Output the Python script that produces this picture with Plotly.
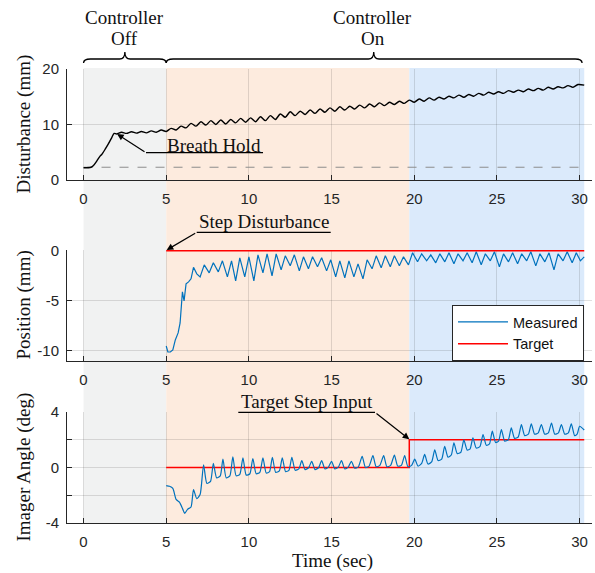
import plotly.graph_objects as go

# ---------------- data ----------------
x_ticks = [0, 5, 10, 15, 20, 25, 30]
phase_edges = [0, 5, 19.7, 30.28]          # controller off | step disturbance | target step

dist_t = [0.0, 0.45, 0.6, 0.8, 1.0, 1.1, 1.3, 1.5, 1.7, 1.85,
          2.0, 2.3, 2.6, 2.9, 3.2, 3.5, 3.8, 4.1, 4.4, 4.7,
          5.0, 5.3, 5.6, 5.9, 6.2, 6.5, 6.8, 7.1, 7.4, 7.7,
          8.0, 8.3, 8.6, 8.9, 9.2, 9.5, 9.8, 10.1, 10.4, 10.7,
          11.0, 11.3, 11.6, 11.9, 12.2, 12.5, 12.8, 13.1, 13.4, 13.7,
          14.0, 14.3, 14.6, 14.9, 15.2, 15.5, 15.8, 16.1, 16.4, 16.7,
          17.0, 17.3, 17.6, 17.9, 18.2, 18.5, 18.8, 19.1, 19.4, 19.7,
          20.0, 20.3, 20.6, 20.9, 21.2, 21.5, 21.8, 22.1, 22.4, 22.7,
          23.0, 23.3, 23.6, 23.9, 24.2, 24.5, 24.8, 25.1, 25.4, 25.7,
          26.0, 26.3, 26.6, 26.9, 27.2, 27.5, 27.8, 28.1, 28.4, 28.7,
          29.0, 29.3, 29.6, 29.9, 30.28]
dist_mm = [2.2, 2.3, 2.6, 3.4, 4.3, 4.6, 5.5, 6.5, 7.6, 8.4,
           8.3, 8.6, 8.4, 8.7, 8.45, 8.75, 8.5, 8.85, 8.6, 9.0,
           8.75, 9.3, 9.0, 9.7, 9.4, 10.2, 9.7, 10.5, 9.9, 10.7,
           10.0, 10.8, 10.1, 10.9, 10.3, 11.1, 10.4, 11.2, 10.5, 11.4,
           10.7, 11.6, 10.9, 11.9, 11.3, 12.3, 11.6, 12.4, 11.8, 12.6,
           12.0, 12.8, 12.2, 13.0, 12.4, 13.2, 12.6, 13.3, 12.8, 13.5,
           13.0, 13.7, 13.2, 13.9, 13.4, 14.0, 13.6, 14.2, 13.8, 14.4,
           14.0, 14.6, 14.2, 14.8, 14.4, 14.9, 14.6, 15.1, 14.8, 15.3,
           14.9, 15.4, 15.1, 15.6, 15.3, 15.8, 15.5, 15.9, 15.6, 16.1,
           15.8, 16.2, 15.9, 16.4, 16.1, 16.5, 16.2, 16.7, 16.4, 16.8,
           16.6, 17.0, 16.7, 17.2, 17.1]
dist_base_t = [0.0, 30.28]
dist_base_mm = [2.3, 2.3]

pos_t = [5.0, 5.1, 5.25, 5.4, 5.55, 5.72, 5.84, 5.93, 5.98, 6.08,
         6.2, 6.35, 6.5, 6.65, 6.85, 7.05, 7.3, 7.6, 7.85, 8.15,
         8.4, 8.7, 8.95, 9.2, 9.45, 9.75, 10.0, 10.3, 10.55, 10.85,
         11.1, 11.4, 11.65, 11.95, 12.2, 12.5, 12.75, 13.05, 13.3, 13.6,
         13.85, 14.15, 14.4, 14.7, 14.95, 15.25, 15.5, 15.8, 16.05, 16.35,
         16.6, 16.9, 17.15, 17.45, 17.7, 18.0, 18.25, 18.55, 18.8, 19.1,
         19.35, 19.65, 19.9, 20.2, 20.45, 20.75, 21.0, 21.3, 21.55, 21.85,
         22.1, 22.4, 22.65, 22.95, 23.2, 23.5, 23.75, 24.05, 24.3, 24.6,
         24.85, 25.15, 25.4, 25.7, 25.95, 26.25, 26.5, 26.8, 27.05, 27.35,
         27.6, 27.9, 28.15, 28.45, 28.7, 29.0, 29.25, 29.55, 29.8, 30.05,
         30.28]
pos_mm = [-9.5, -10.1, -10.1, -9.9, -8.9, -8.2, -7.2, -4.9, -4.1, -5.0,
          -3.3, -3.1, -2.8, -1.65, -2.3, -2.6, -1.4, -2.2, -1.2, -2.1,
          -1.0, -2.6, -1.0, -3.0, -0.7, -2.6, -0.6, -3.0, -0.4, -2.2,
          -0.3, -2.5, -0.3, -1.9, -0.5, -1.5, -0.4, -2.0, -0.6, -1.8,
          -0.6, -1.6, -0.7, -2.0, -0.9, -2.6, -1.0, -2.7, -1.0, -2.6,
          -1.3, -2.8, -0.9, -1.8, -0.5, -1.7, -0.5, -1.6, -0.5, -1.5,
          -0.6, -1.4, -0.2, -1.1, -0.3, -1.0, -0.4, -1.2, -0.3, -1.1,
          -0.2, -1.3, -0.3, -1.0, -0.2, -1.2, -0.1, -1.4, -0.3, -1.0,
          -0.1, -1.6, -0.3, -1.1, -0.2, -1.3, -0.3, -1.0, -0.1, -1.5,
          -0.3, -1.1, -0.2, -1.9, -0.3, -1.0, -0.1, -1.2, -0.2, -1.0,
          -0.6]
pos_target_t = [5.0, 30.28]
pos_target_mm = [0.0, 0.0]

ang_t = [5.0, 5.2, 5.4, 5.6, 5.8, 6.0, 6.12, 6.3, 6.5, 6.65, 6.85, 7.05,
         7.26, 7.46, 7.68, 7.85, 8.05, 8.27, 8.43, 8.63, 8.85,
         9.03, 9.23, 9.45, 9.64, 9.84, 10.06, 10.24, 10.44, 10.66,
         10.85, 11.05, 11.25, 11.42, 11.62, 11.84, 12.02, 12.22, 12.42,
         12.6, 12.8, 13.02, 13.2, 13.4, 13.62, 13.8, 14.0, 14.22,
         14.4, 14.6, 14.82, 15.0, 15.2, 15.42, 15.6, 15.8, 16.02,
         16.2, 16.4, 16.62, 16.85, 17.05, 17.27, 17.5, 17.7, 17.92,
         18.15, 18.35, 18.57, 18.8, 19.0, 19.22, 19.42, 19.62, 19.84,
         20.03, 20.23, 20.45, 20.63, 20.83, 21.05, 21.24, 21.44, 21.66,
         21.84, 22.04, 22.24, 22.4, 22.6, 22.82, 23.0, 23.2, 23.38,
         23.55, 23.75, 23.97, 24.16, 24.36, 24.55, 24.72, 24.92, 25.1,
         25.27, 25.47, 25.69, 25.87, 26.07, 26.29, 26.48, 26.68, 26.9,
         27.08, 27.28, 27.5, 27.69, 27.89, 28.11, 28.3, 28.5, 28.72,
         28.9, 29.1, 29.32, 29.5, 29.7, 29.85, 30.0, 30.28]
ang_deg = [-1.3, -1.35, -1.5, -2.3, -2.5, -3.0, -3.3, -3.0, -2.85, -1.6, -2.25, -1.95,
           0.2, -1.15, -1.0, 0.3, -0.75, -0.6, 0.6, -0.75, -0.6,
           0.77, -0.6, -0.5, 0.7, -0.55, -0.45, 0.65, -0.45, -0.35,
           0.7, -0.4, -0.3, 0.74, -0.35, -0.25, 0.7, -0.3, -0.2,
           0.74, -0.2, -0.1, 0.5, -0.15, 0.0, 0.45, -0.15, 0.0,
           0.5, -0.1, 0.05, 0.45, -0.1, 0.05, 0.5, -0.1, 0.05,
           0.45, -0.05, 0.05, 0.8, 0.0, 0.1, 0.85, 0.05, 0.15,
           0.85, 0.05, 0.15, 0.9, 0.1, 0.15, 0.86, 0.05, 0.15,
           0.6, 0.1, 0.3, 0.94, 0.25, 0.4, 1.28, 0.5, 0.6,
           1.53, 0.75, 0.9, 1.78, 1.0, 1.1, 2.0, 1.25, 1.35,
           2.14, 1.4, 1.5, 2.38, 1.6, 1.7, 2.62, 1.8, 1.9,
           2.74, 1.9, 2.0, 2.85, 2.1, 2.2, 3.1, 2.3, 2.4,
           3.15, 2.4, 2.5, 3.1, 2.4, 2.5, 3.2, 2.4, 2.5,
           3.1, 2.4, 2.5, 3.15, 2.3, 2.4, 2.97, 2.7]
ang_target_t = [5.0, 19.7, 19.7, 30.28]
ang_target_deg = [0.0, 0.0, 2.0, 2.0]

# ---------------- layout geometry helpers (pixels -> plot coordinates) ----------------
W, H = 595, 573
ML, MR, MT, MB = 67, 3, 69, 50
PW, PH = W - ML - MR, H - MT - MB
X_RANGE = [-1, 30.75]
PX_PER_UNIT = PW / (X_RANGE[1] - X_RANGE[0])


def px_to_t(px):
    return X_RANGE[0] + (px - ML) / PX_PER_UNIT


def py(ypx):
    return (H - MB - ypx) / PH


def pxp(xpx):
    return (xpx - ML) / PW


dom_top = [py(180), 1.0]
dom_mid = [py(361), py(250)]
dom_bot = [0.0, py(412)]

SERIF = "Liberation Serif, Times New Roman, serif"
SANS = "Liberation Sans, Arial, Helvetica, sans-serif"
AXC = "#262626"
BLUE = "#0072BD"
RED = "#FF0000"

fig = go.Figure()

# top panel
fig.add_trace(go.Scatter(x=dist_base_t, y=dist_base_mm, mode="lines",
                         line=dict(color="#8c8c8c", width=1, dash="dash"),
                         showlegend=False, xaxis="x", yaxis="y", hoverinfo="skip"))
fig.add_trace(go.Scatter(x=dist_t, y=dist_mm, mode="lines",
                         line=dict(color="black", width=1.4, shape="spline", smoothing=0.8),
                         showlegend=False, xaxis="x", yaxis="y"))
# middle panel
fig.add_trace(go.Scatter(x=pos_t, y=pos_mm, mode="lines", name="Measured",
                         line=dict(color=BLUE, width=1.2),
                         showlegend=True, xaxis="x2", yaxis="y2"))
fig.add_trace(go.Scatter(x=pos_target_t, y=pos_target_mm, mode="lines", name="Target",
                         line=dict(color=RED, width=1.5),
                         showlegend=True, xaxis="x2", yaxis="y2"))
# bottom panel
fig.add_trace(go.Scatter(x=ang_target_t, y=ang_target_deg, mode="lines",
                         line=dict(color=RED, width=1.5),
                         showlegend=False, xaxis="x3", yaxis="y3"))
fig.add_trace(go.Scatter(x=ang_t, y=ang_deg, mode="lines",
                         line=dict(color=BLUE, width=1.2, shape="spline", smoothing=0.6),
                         showlegend=False, xaxis="x3", yaxis="y3"))

axis_common = dict(showline=True, linecolor=AXC, linewidth=1, ticks="inside", ticklen=5,
                   tickcolor=AXC, tickwidth=1, showgrid=True, gridcolor="rgba(38,38,38,0.14)",
                   gridwidth=1, zeroline=False, mirror=False,
                   tickfont=dict(family=SANS, size=15, color=AXC))

for xa, ya in [("xaxis", "y"), ("xaxis2", "y2"), ("xaxis3", "y3")]:
    fig.update_layout(**{xa: dict(axis_common, range=X_RANGE, tickvals=x_ticks, anchor=ya,
                                  domain=[0, 1], ticklabelstandoff=5)})

fig.update_layout(
    yaxis=dict(axis_common, domain=dom_top, range=[0, 20], tickvals=[0, 10, 20], anchor="x",
               ticklabelstandoff=4),
    yaxis2=dict(axis_common, domain=dom_mid, range=[-11, 0.08], tickvals=[-10, -5, 0],
                ticktext=["-10", "-5", "0"], anchor="x2", ticklabelstandoff=4),
    yaxis3=dict(axis_common, domain=dom_bot, range=[-4, 4], tickvals=[-4, -2, 0, 2, 4],
                ticktext=["-4", "", "0", "", "4"], anchor="x3", ticklabelstandoff=4),
)

shapes = []
shade_colors = ["rgb(241,242,242)", "rgb(253,235,222)", "rgb(219,234,251)"]
for k in range(3):
    shapes.append(dict(type="rect", xref="x", yref="paper", x0=phase_edges[k], x1=phase_edges[k + 1],
                       y0=0, y1=py(68), fillcolor=shade_colors[k], line=dict(width=0), layer="below"))


def brace(x0, x1, xm):
    yb, yl, yp = py(63), py(59), py(52)
    dx = 0.42
    dm = 0.32
    return (f"M {x0},{yb} Q {x0},{yl} {x0 + dx},{yl} L {xm - dm},{yl} Q {xm},{yl} {xm},{yp} "
            f"Q {xm},{yl} {xm + dm},{yl} L {x1 - dx},{yl} Q {x1},{yl} {x1},{yb}")


shapes.append(dict(type="path", xref="x", yref="paper", path=brace(0, 5, 2.5),
                   line=dict(color="black", width=1.3)))
shapes.append(dict(type="path", xref="x", yref="paper", path=brace(5, 30.15, 17.55),
                   line=dict(color="black", width=1.3)))

# underlines of the callouts
for (xa, xb, yy) in [(146, 263, 152.7), (196.7, 330.7, 232.3), (238.3, 375, 412.3)]:
    shapes.append(dict(type="line", xref="x", yref="paper", x0=px_to_t(xa), x1=px_to_t(xb),
                       y0=py(yy), y1=py(yy), line=dict(color="black", width=1.3)))

annotations = []


def text(x_t, y_px, s, size=19, family=SERIF, angle=0, x_paper=None):
    d = dict(text=s, xref="x" if x_paper is None else "paper",
             x=x_t if x_paper is None else x_paper, yref="paper", y=py(y_px),
             showarrow=False, xanchor="center", yanchor="middle", textangle=angle,
             borderpad=0, font=dict(family=family, size=size, color="#111111"))
    annotations.append(d)


text(2.48, 17.8, "Controller")
text(2.48, 39.0, "Off")
text(17.5, 17.8, "Controller")
text(17.5, 39.0, "On")
text(px_to_t(214), 145, "Breath Hold")
text(px_to_t(263.7), 221.3, "Step Disturbance")
text(px_to_t(307), 401.3, "Target Step Input")

text(None, 124.5, "Disturbance (mm)", angle=-90, x_paper=pxp(23))
text(None, 305.5, "Position (mm)", angle=-90, x_paper=pxp(23))
text(None, 467.5, "Imager Angle (deg)", angle=-90, x_paper=pxp(23))
text(None, 561, "Time (sec)", x_paper=pxp(332))

# arrows (head at x/y, tail at the start of each underline)
for (hx, hy, tx, ty) in [(117.1, 134, 146, 152.7), (166.7, 250, 196.7, 232.3),
                         (409.3, 439.3, 375, 412.3)]:
    annotations.append(dict(text="", xref="x", x=px_to_t(hx), yref="paper", y=py(hy),
                            axref="pixel", ayref="pixel", ax=tx - hx, ay=ty - hy,
                            showarrow=True, arrowhead=2, arrowsize=1.1, arrowwidth=1.2,
                            arrowcolor="black", standoff=0, startstandoff=0))

fig.update_layout(
    width=W, height=H,
    margin=dict(l=ML, r=MR, t=MT, b=MB, pad=0),
    paper_bgcolor="white", plot_bgcolor="rgba(0,0,0,0)",
    shapes=shapes, annotations=annotations,
    legend=dict(x=pxp(584), y=py(361), xanchor="right", yanchor="bottom",
                bgcolor="white", bordercolor=AXC, borderwidth=1, itemwidth=50,
                font=dict(family=SANS, size=14.5, color="#111111"), tracegroupgap=0),
    showlegend=True,
)

fig.write_html("out.html", config={"displayModeBar": False},
               post_script="document.body.style.margin='0px';document.body.style.padding='0px';")
